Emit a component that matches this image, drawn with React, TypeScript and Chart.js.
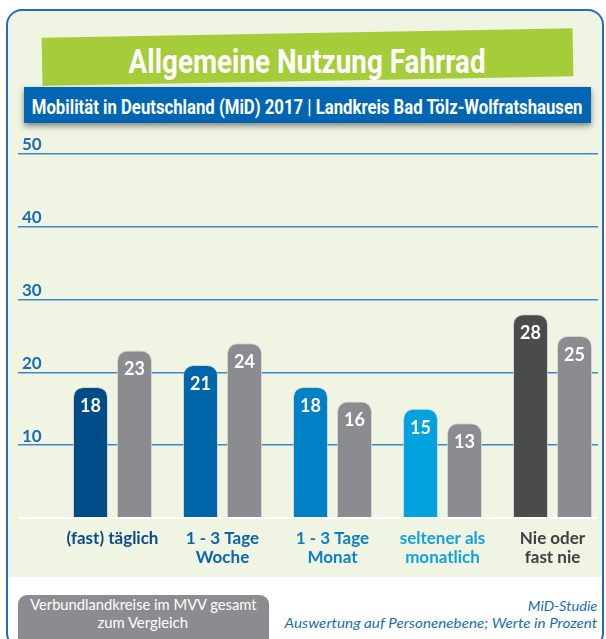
import React, { useEffect, useRef } from 'react';
import { Chart, registerables } from 'chart.js';

Chart.register(...registerables);

// ---- data ----
const TITLE = 'Allgemeine Nutzung Fahrrad';
const SUBTITLE = 'Mobilität in Deutschland (MiD) 2017 | Landkreis Bad Tölz-Wolfratshausen';
const CATEGORIES: string[][] = [
  ['(fast) täglich'],
  ['1 - 3 Tage', 'Woche'],
  ['1 - 3 Tage', 'Monat'],
  ['seltener als', 'monatlich'],
  ['Nie oder', 'fast nie'],
];
const LANDKREIS = [18, 21, 18, 15, 28];
const MVV = [23, 24, 16, 13, 25];
const Y_MIN = 0;
const Y_MAX = 50;
const Y_STEP = 10;
const LANDKREIS_COLORS = ['#014b87', '#0066aa', '#0081c5', '#00a3e0', '#4a4b4d'];
const CATEGORY_TEXT_COLORS = ['#0b4a86', '#0a66aa', '#0a82c5', '#12a3de', '#3f4042'];
const MVV_COLOR = '#8b8c90';
const LEGEND_BOX = ['Verbundlandkreise im MVV gesamt', 'zum Vergleich'];
const SOURCE = ['MiD-Studie', 'Auswertung auf Personenebene; Werte in Prozent'];

// ---- text helper ----
let measureCtx: CanvasRenderingContext2D | null = null;
function measure(text: string, font: string) {
  if (!measureCtx) measureCtx = document.createElement('canvas').getContext('2d');
  const c = measureCtx as CanvasRenderingContext2D;
  c.font = font;
  const m = c.measureText(text);
  return { w: m.width, a: m.fontBoundingBoxAscent || 0.9 * 16, d: m.fontBoundingBoxDescent || 0.25 * 16 };
}

function Txt(props: {
  text: string; x: number; baseline: number; width?: number; align?: 'center' | 'left' | 'right';
  size: number; family: string; weight?: string; italic?: boolean; color: string;
}) {
  const { text, x, baseline, width, align = 'center', size, family, weight = 'normal', italic = false, color } = props;
  const font = `${italic ? 'italic ' : ''}${weight} ${size}px ${family}`;
  const m = measure(text, font);
  const k = width ? width / m.w : 1;
  const lh = m.a + m.d;
  const boxW = 1000;
  const left = align === 'center' ? x - boxW / 2 : align === 'right' ? x - boxW : x;
  const origin = align === 'center' ? '50% 50%' : align === 'right' ? '100% 50%' : '0% 50%';
  return (
    <div style={{ position: 'absolute', left, top: baseline - m.a, width: boxW, height: lh, font, lineHeight: lh + 'px', textAlign: align, whiteSpace: 'nowrap', color }}>
      <span style={{ display: 'inline-block', font, lineHeight: lh + 'px', transform: `scaleX(${k})`, transformOrigin: origin }}>{text}</span>
    </div>
  );
}

const valueLabels = {
  id: 'valueLabels',
  afterDatasetsDraw(chart: any) {
    const ctx = chart.ctx;
    ctx.save();
    ctx.fillStyle = '#ffffff';
    ctx.font = 'bold 18px Lato';
    ctx.textAlign = 'center';
    ctx.textBaseline = 'middle';
    chart.data.datasets.forEach((ds: any, di: number) => {
      const meta = chart.getDatasetMeta(di);
      meta.data.forEach((el: any, i: number) => {
        ctx.fillText(String(ds.data[i].y), el.x, el.y + 19);
      });
    });
    ctx.restore();
  },
};

function BarChart() {
  const ref = useRef<HTMLCanvasElement>(null);
  useEffect(() => {
    if (!ref.current) return;
    const chart = new Chart(ref.current, {
      type: 'bar',
      data: {
        datasets: [
          {
            label: 'Landkreis Bad Tölz-Wolfratshausen',
            data: LANDKREIS.map((v, i) => ({ x: i, y: v })),
            backgroundColor: LANDKREIS_COLORS,
            borderColor: 'rgba(200,200,200,0.7)',
            borderWidth: 1,
            borderSkipped: 'bottom',
            borderRadius: { topLeft: 10, topRight: 10, bottomLeft: 0, bottomRight: 0 },
            categoryPercentage: 0.8,
            barPercentage: 0.795,
          } as any,
          {
            label: 'Verbundlandkreise im MVV gesamt',
            data: MVV.map((v, i) => ({ x: i, y: v })),
            backgroundColor: MVV_COLOR,
            borderColor: 'rgba(205,205,205,0.8)',
            borderWidth: 1,
            borderSkipped: 'bottom',
            borderRadius: { topLeft: 10, topRight: 10, bottomLeft: 0, bottomRight: 0 },
            categoryPercentage: 0.8,
            barPercentage: 0.795,
          } as any,
        ],
      },
      options: {
        animation: false,
        responsive: false,
        devicePixelRatio: 1,
        layout: { padding: { left: 18, right: 8, top: 24, bottom: 0 } },
        plugins: { legend: { display: false }, tooltip: { enabled: false } },
        scales: {
          x: {
            type: 'linear',
            min: -0.859,
            max: 4.4136,
            offset: false,
            afterBuildTicks: (s: any) => { s.ticks = CATEGORIES.map((_, i) => ({ value: i })); },
            afterFit: (s: any) => { s.height = 62; },
            grid: { display: false, drawTicks: false },
            border: { display: false },
            ticks: {
              autoSkip: false,
              maxRotation: 0,
              padding: 11,
              callback: (_v: any, i: number) => CATEGORIES[i],
              color: (c: any) => CATEGORY_TEXT_COLORS[c.index] || '#333',
              font: { family: 'Lato', weight: 'bold', size: 17, lineHeight: 1.1 },
            },
          },
          y: {
            min: Y_MIN,
            max: Y_MAX,
            afterFit: (s: any) => { s.width = 0; },
            border: { display: false },
            grid: {
              drawTicks: false,
              color: (c: any) => (c.tick && c.tick.value === 0 ? 'rgba(255,255,255,0.95)' : '#3f87c4'),
              lineWidth: (c: any) => (c.tick && c.tick.value === 0 ? 2 : 1.5),
            },
            ticks: {
              stepSize: Y_STEP,
              mirror: true,
              padding: 4,
              labelOffset: -9,
              color: '#1a6db3',
              font: { family: 'Lato', weight: 'bold', size: 17 },
              callback: (v: any) => (v === 0 ? '' : String(v)),
            },
          },
        },
      } as any,
      plugins: [valueLabels],
    });
    return () => chart.destroy();
  }, []);
  return <canvas ref={ref} width={606} height={450} style={{ position: 'absolute', left: 0, top: 130, width: 606, height: 450 }} />;
}

export default function App() {
  return (
    <div style={{ position: 'absolute', left: 0, top: 0, width: 606, height: 639, overflow: 'hidden', background: '#ffffff' }}>
      <div style={{
        position: 'absolute', left: 6, top: 9, width: 598, height: 640, boxSizing: 'border-box',
        border: '2px solid #1f6eb5', borderRadius: 16,
        background: 'linear-gradient(to bottom, #f0f4e2 0px, #f0f4e2 566px, #ffffff 566px)',
      }} />
      <div style={{ position: 'absolute', left: 42, top: 33, width: 531, height: 48, background: '#a5cc39', transform: 'rotate(-1deg)' }} />
      <Txt text={TITLE} x={307.5} baseline={72.7} width={357} size={34} family="Roboto" weight="bold" color="#ffffff" />
      <div style={{ position: 'absolute', left: 24, top: 87, width: 567, height: 36, background: '#0066b3', boxShadow: '0 3px 6px rgba(0,0,0,0.45)' }} />
      <Txt text={SUBTITLE} x={307} baseline={114.3} width={551} size={20} family="Roboto" weight="bold" color="#ffffff" />
      <BarChart />
      <div style={{ position: 'absolute', left: 18, top: 595, width: 251, height: 60, background: '#8b8c90', borderRadius: 9 }} />
      <Txt text={LEGEND_BOX[0]} x={143} baseline={610} width={227} size={15} family="Lato" color="#ffffff" />
      <Txt text={LEGEND_BOX[1]} x={143} baseline={627.5} width={91} size={15} family="Lato" color="#ffffff" />
      <Txt text={SOURCE[0]} x={597.5} baseline={611} width={69.5} align="right" size={14} family="Lato" italic color="#1a6db3" />
      <Txt text={SOURCE[1]} x={597.5} baseline={628} width={313} align="right" size={14} family="Lato" italic color="#1a6db3" />
    </div>
  );
}
